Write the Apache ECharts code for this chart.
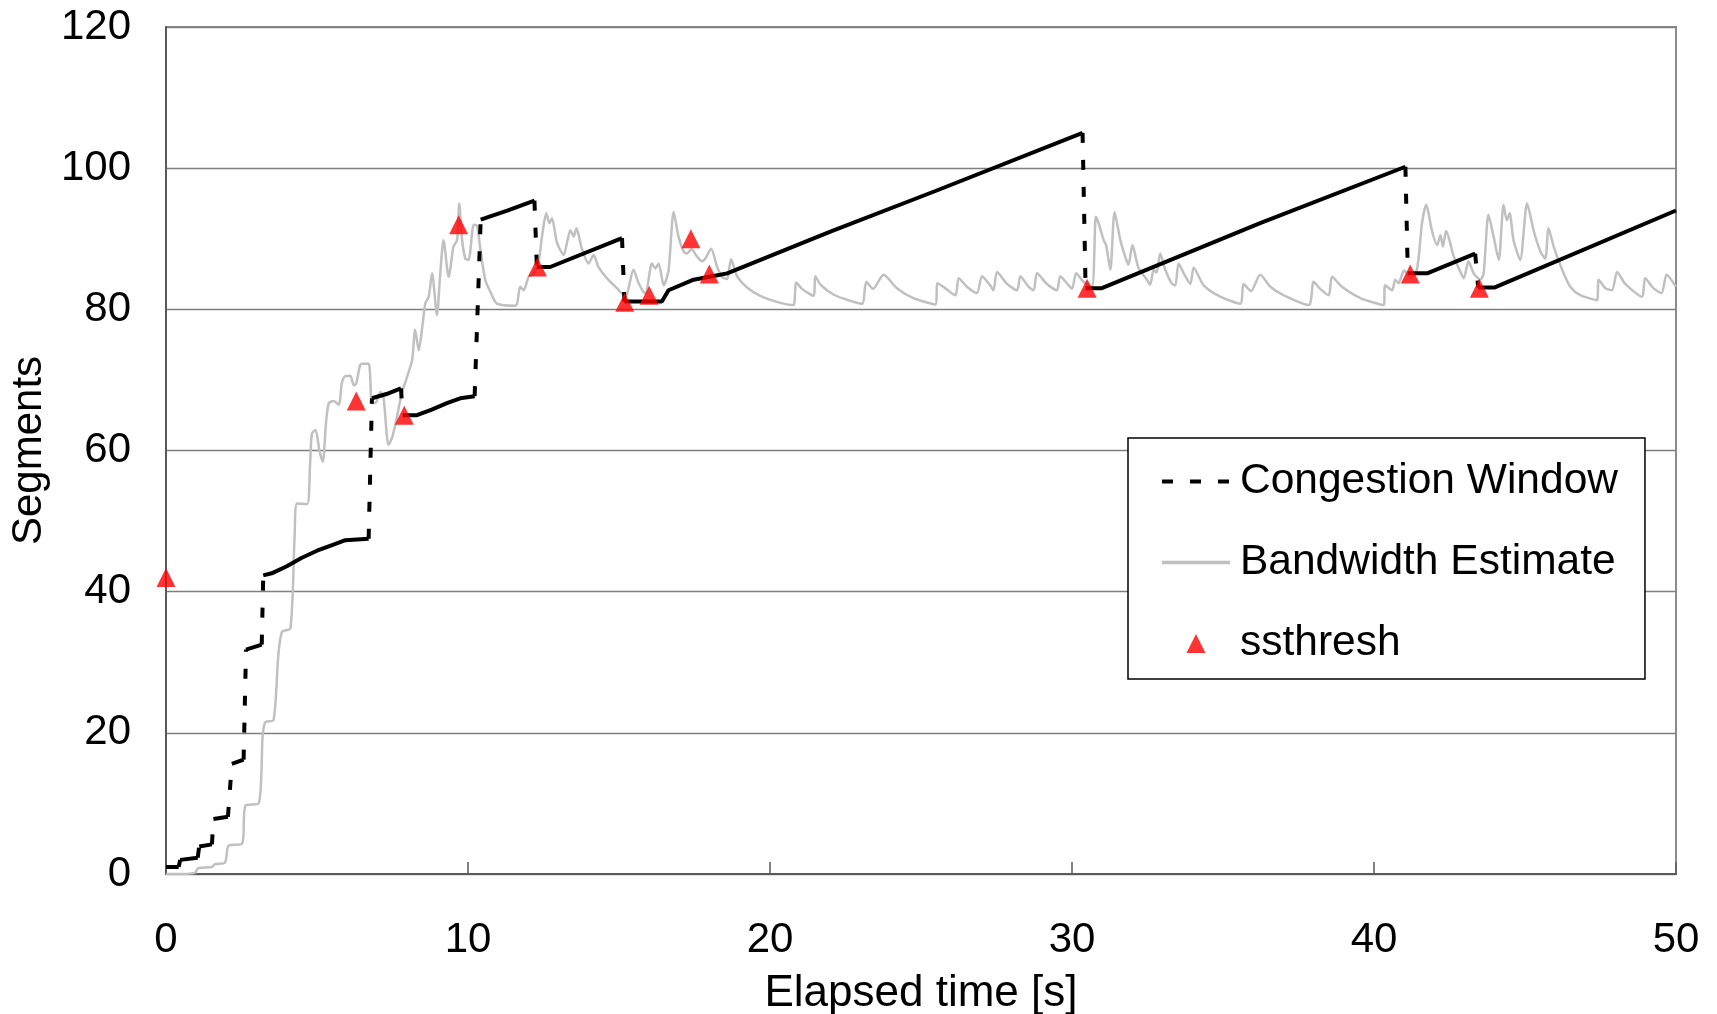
<!DOCTYPE html>
<html>
<head>
<meta charset="utf-8">
<script src="https://cdn.jsdelivr.net/npm/echarts@6/dist/echarts.min.js"></script>
<style>
  html, body { margin: 0; padding: 0; background: #fff; }
  #chart { width: 1717px; height: 1014px; }
</style>
</head>
<body>
<div id="chart"></div>
<script>
// ---- Data ----
const xTicks = [0, 10, 20, 30, 40, 50];
const yTicks = [0, 20, 40, 60, 80, 100, 120];

// Congestion window: continuous runs; consecutive runs are joined by (dashed) jumps
const cwndRuns = [
  [[0, 1], [0.42, 1]],
  [[0.47, 2], [1.05, 2.3]],
  [[1.1, 3.9], [1.52, 4.2]],
  [[1.57, 7.8], [2.05, 8.1]],
  [[2.18, 15.6], [2.57, 16.2]],
  [[2.65, 31.8], [3.17, 32.5]],
  [[3.22, 42.3], [3.5, 42.6], [4.0, 43.6], [4.5, 44.8], [5.0, 45.8], [5.5, 46.6], [5.94, 47.3], [6.71, 47.5]],
  [[6.82, 67.4], [7.3, 68.0], [7.78, 68.8]],
  [[7.84, 65.0], [8.31, 65.0], [8.8, 65.8], [9.3, 66.7], [9.74, 67.4], [10.22, 67.7]],
  [[10.42, 92.7], [11.3, 94.0], [12.2, 95.4]],
  [[12.28, 86.0], [12.72, 86.0], [15.1, 90.1]],
  [[15.18, 81.1], [16.42, 81.1], [16.64, 82.7], [17.47, 84.2], [18.35, 84.9], [18.58, 85.1], [22.0, 91.0], [25.5, 96.8], [30.35, 105.0]],
  [[30.45, 83.0], [30.99, 83.0], [36.23, 92.2], [41.04, 100.2]],
  [[41.12, 85.1], [41.76, 85.1], [43.35, 87.9]],
  [[43.45, 83.1], [44.0, 83.1], [50.0, 94.0]]
];

// Bandwidth estimate
const bwEstimate = [
  [0,0],[0.5,0],[0.97,0.2],[1.05,0.8],[1.52,1.0],[1.62,1.4],[1.95,1.6],[2.07,4.0],[2.52,4.3],[2.63,9.7],[3.07,10.0],
  [3.2,19.5],[3.29,21.5],[3.56,21.8],[3.72,31],[3.84,34.3],[4.12,34.8],[4.26,48],[4.34,52.5],[4.67,52.4],[4.77,58],
  [4.83,62.4],[4.95,62.9],[5.08,60],[5.19,58.4],[5.3,64],[5.39,66.7],[5.55,67.0],[5.72,66.5],[5.82,69.5],[5.92,70.5],
  [6.1,70.6],[6.22,69.2],[6.3,69.5],[6.42,72],[6.49,72.3],[6.71,72.3],[6.82,66.7],[6.95,66.8],[7.1,68.3],[7.2,67.6],
  [7.37,60.8],[7.5,62],[7.65,64.8],[7.8,68],[7.98,70.4],[8.15,72.8],[8.25,77.1],[8.37,74.2],[8.5,78],[8.59,80.9],
  [8.7,81.8],[8.81,85.1],[8.97,79.2],[9.08,85],[9.19,89.8],[9.36,84.6],[9.52,88.9],[9.64,89.8],[9.71,95.0],[9.8,90],
  [9.91,87.2],[10.02,87.0],[10.19,92.0],[10.3,91.8],[10.41,88.5],[10.57,84.2],[10.74,82.5],[10.96,80.8],[11.57,80.5],
  [11.73,83.2],[11.84,82.7],[12.01,84.6],[12.17,85.0],[12.34,86.8],[12.45,90.3],[12.59,93.6],[12.7,92.2],[12.78,92.9],
  [12.95,89.4],[13.17,87.7],[13.28,89.5],[13.39,91.2],[13.5,90.3],[13.59,91.5],[13.77,88.6],[13.99,86.5],[14.16,87.7],
  [14.32,86.0],[14.6,84.4],[14.93,83.0],[15.21,81.8],[15.48,85.6],[15.65,83.7],[15.87,82.2],[16.09,86.5],[16.2,85.8],
  [16.31,86.5],[16.48,83.4],[16.64,85.5],[16.81,93.8],[16.97,90.3],[17.14,88.2],[17.25,87.9],[17.4,88.5],[17.58,87.5],
  [17.75,86.8],[17.86,87.2],[18.05,88.6],[18.25,86.0],[18.41,84.6],[18.58,84.3],[18.71,87.1],[18.91,84.7],[19.24,83.1],
  [19.68,81.9],[20.12,81.2],[20.56,80.7],[20.78,80.6],[20.87,83.8],[21.06,82.9],[21.44,81.9],[21.5,84.7],[21.67,83.5],
  [22.1,82.1],[22.66,81.2],[23.05,80.8],[23.19,83.9],[23.41,82.9],[23.76,84.9],[24.2,83.0],[24.75,81.6],[25.47,80.7],
  [25.55,83.7],[25.8,83.0],[26.14,82.0],[26.25,84.4],[26.52,83.2],[26.85,82.3],[27.02,84.7],[27.29,83.4],[27.4,82.7],
  [27.52,85.3],[27.85,83.6],[28.18,82.7],[28.29,84.7],[28.56,83.2],[28.73,82.7],[28.84,85.1],[29.17,83.6],[29.5,82.7],
  [29.61,84.7],[29.89,83.4],[30.0,82.9],[30.14,85.1],[30.38,83.9],[30.66,83.2],[30.79,93.1],[30.88,92.2],[31.05,89.8],
  [31.13,89.1],[31.27,85.6],[31.41,93.8],[31.6,89.8],[31.76,87.5],[31.87,86.3],[32.0,89.1],[32.2,85.9],[32.48,84.2],
  [32.59,83.5],[32.7,85.6],[32.8,85.2],[32.92,87.9],[33.09,85.6],[33.31,83.6],[33.42,83.4],[33.53,86.5],[33.7,85.1],
  [33.92,83.6],[34.03,85.9],[34.36,83.4],[34.91,81.8],[35.57,80.8],[35.68,83.6],[35.93,82.6],[36.23,84.9],[36.57,83.2],
  [37.0,82.0],[37.84,80.6],[38.0,83.9],[38.22,82.9],[38.5,82.0],[38.61,84.6],[38.94,83.2],[39.55,81.6],[40.32,80.6],
  [40.37,83.4],[40.6,82.7],[40.7,84.2],[40.81,83.7],[41.0,85.5],[41.2,84.5],[41.42,85.6],[41.59,92.2],[41.73,94.8],
  [41.92,91.1],[42.09,89.1],[42.2,90.5],[42.28,88.9],[42.39,91.1],[42.64,87.5],[42.86,85.3],[42.97,84.4],[43.13,86.8],
  [43.3,85.1],[43.52,84.2],[43.63,85.1],[43.79,93.4],[43.96,90.3],[44.13,87.0],[44.29,94.8],[44.4,92.6],[44.49,93.6],
  [44.62,89.8],[44.84,87.0],[45.07,95.0],[45.29,91.1],[45.51,88.2],[45.67,87.2],[45.78,91.5],[45.95,88.9],[46.23,85.6],
  [46.5,83.2],[46.83,82.0],[47.38,81.3],[47.44,84.2],[47.66,83.0],[47.88,82.7],[48.05,85.3],[48.32,83.6],[48.87,81.8],
  [48.98,84.4],[49.25,83.0],[49.52,82.3],[49.69,84.9],[50.0,83.2]
];

// ssthresh
const ssthresh = [
  [0, 42], [6.3, 67], [7.89, 65], [9.69, 92], [12.3, 86], [15.19, 81],
  [16.0, 82], [17.38, 90], [17.99, 85], [30.5, 83], [41.2, 85], [43.49, 83]
];

// ---- Build series data from the runs ----
const GAP = ['-', '-'];
const cwndSolid = [];
cwndRuns.forEach((run, i) => {
  if (i > 0) cwndSolid.push(GAP);
  run.forEach(p => cwndSolid.push(p));
});
const cwndJumps = [];
for (let i = 1; i < cwndRuns.length; i++) {
  const a = cwndRuns[i - 1][cwndRuns[i - 1].length - 1];
  const b = cwndRuns[i][0];
  if (i > 1) cwndJumps.push(GAP);
  cwndJumps.push(a, b);
}

const FONT = 'Liberation Sans, Arial, sans-serif';
const chart = echarts.init(document.getElementById('chart'), null, { renderer: 'canvas' });

chart.setOption({
  animation: false,
  backgroundColor: '#ffffff',
  grid: {
    left: 166, right: 41, top: 27, bottom: 140,
    containLabel: false,
    outerBoundsMode: 'none',
    show: true, borderColor: '#8c8c8c', borderWidth: 2, backgroundColor: 'transparent'
  },
  legend: {
    data: [
      { name: 'Congestion Window', itemStyle: { opacity: 0 }, lineStyle: { width: 4, type: [11, 17], color: '#000', cap: 'butt' } },
      { name: 'Bandwidth Estimate', itemStyle: { opacity: 0 }, lineStyle: { width: 3.5, color: '#c0c0c0' } },
      { name: 'ssthresh', icon: 'path://M34,0L43.5,19L24.5,19Z M0,0L0,0 M68,19L68,19' }
    ],
    orient: 'vertical',
    left: 1128, top: 438,
    padding: [22, 27, 14, 32],
    itemGap: 38,
    itemWidth: 68,
    itemHeight: 19,
    backgroundColor: '#ffffff',
    borderColor: '#000000',
    borderWidth: 1.5,
    textStyle: { fontSize: 42.5, color: '#000', fontFamily: FONT, padding: [0, 0, 0, 5] }
  },
  xAxis: {
    type: 'value',
    min: xTicks[0], max: xTicks[xTicks.length - 1], interval: 10,
    name: 'Elapsed time [s]',
    nameLocation: 'middle',
    nameGap: 98,
    nameTextStyle: { fontSize: 44, color: '#000', fontFamily: FONT },
    axisLine: { show: true, lineStyle: { color: '#5a5a5a', width: 2 } },
    axisTick: { show: true, inside: true, length: 12, lineStyle: { color: '#5a5a5a', width: 1.5 } },
    axisLabel: { fontSize: 42, color: '#000', fontFamily: FONT, margin: 45 },
    splitLine: { show: false }
  },
  yAxis: {
    type: 'value',
    min: yTicks[0], max: yTicks[yTicks.length - 1], interval: 20,
    name: 'Segments',
    nameLocation: 'middle',
    nameGap: 112,
    nameTextStyle: { fontSize: 42, color: '#000', fontFamily: FONT },
    axisLine: { show: true, lineStyle: { color: '#5a5a5a', width: 2 } },
    axisTick: { show: false },
    axisLabel: { fontSize: 42, color: '#000', fontFamily: FONT, margin: 35 },
    splitLine: { show: true, lineStyle: { color: '#7f7f7f', width: 1.3 } }
  },
  series: [
    {
      name: 'Congestion Window',
      type: 'line',
      data: cwndJumps,
      symbol: 'none',
      connectNulls: false,
      lineStyle: { color: '#000', width: 4, type: [10, 17], cap: 'butt' },
      itemStyle: { color: '#000' },
      z: 3
    },
    {
      name: 'Congestion Window',
      type: 'line',
      data: cwndSolid,
      symbol: 'none',
      connectNulls: false,
      lineStyle: { color: '#000', width: 4, type: 'solid' },
      itemStyle: { color: '#000' },
      z: 3
    },
    {
      name: 'Bandwidth Estimate',
      type: 'line',
      data: bwEstimate,
      symbol: 'none',
      smooth: 0.25,
      lineStyle: { color: '#c0c0c0', width: 2.5 },
      itemStyle: { color: '#c0c0c0' },
      z: 2
    },
    {
      name: 'ssthresh',
      type: 'scatter',
      data: ssthresh,
      symbol: 'triangle',
      symbolSize: 19,
      clip: false,
      itemStyle: { color: '#ff0000' },
      z: 4
    }
  ]
});
</script>
</body>
</html>
